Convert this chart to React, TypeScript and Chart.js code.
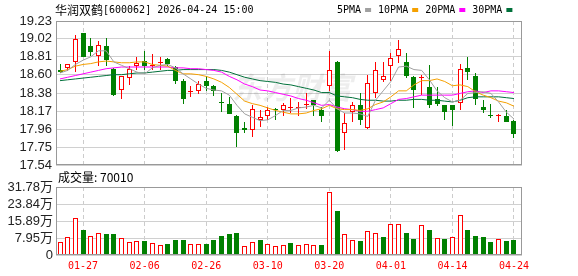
import React, { useEffect, useRef } from 'react';
import { Chart, registerables } from 'chart.js';

Chart.register(...registerables);

const stockName = '华润双鹤';
const stockCode = '600062';
const quoteTime = '2026-04-24 15:00';
const watermarkText = '东方财富';
const volumeTitle = '成交量';

const dates = ['01-22','01-23','01-26','01-27','01-28','01-29','01-30','02-02','02-03','02-04','02-05','02-06','02-09','02-10','02-11','02-12','02-13','02-24','02-25','02-26','02-27','03-02','03-03','03-04','03-05','03-06','03-09','03-10','03-11','03-12','03-13','03-16','03-17','03-18','03-19','03-20','03-23','03-24','03-25','03-26','03-27','03-30','03-31','04-01','04-02','04-03','04-07','04-08','04-09','04-10','04-13','04-14','04-15','04-16','04-17','04-20','04-21','04-22','04-23','04-24'];
const axisDates = ['01-27','02-06','02-26','03-10','03-20','04-01','04-14','04-24'];
const priceTicks = [17.54,17.75,17.96,18.17,18.38,18.60,18.81,19.02,19.23];
const volTickValues = [0,79450,158900,238350,317800];
const volTickLabels = ['0','7.95万','15.89万','23.84万','31.78万'];
const prevClose = 18.60;

const opens = [18.65,18.68,18.75,19.09,18.94,18.82,18.94,18.67,18.42,18.56, 18.70,18.76,18.70,18.74,18.78,18.69,18.53,18.40,18.41,18.53, 18.47,18.28,18.26,18.11,17.98,17.95,18.07,18.12,18.20,18.18, 18.21,18.21,18.24,18.30,18.18,18.47,18.75,17.92,18.16,18.24, 17.97,18.39,18.54,18.70,18.82,18.75,18.57,18.56,18.45,18.31, 18.24,18.25,18.27,18.68,18.58,18.22,18.13,18.12,18.12,18.06];
const highs = [18.73,18.73,19.06,19.09,19.03,18.99,19.03,18.68,18.59,18.70, 18.81,18.88,18.84,18.81,18.80,18.70,18.55,18.47,18.53,18.58, 18.48,18.39,18.34,18.13,18.05,18.25,18.18,18.22,18.21,18.27, 18.33,18.28,18.39,18.30,18.22,18.88,18.76,18.15,18.28,18.39, 18.60,18.75,18.75,18.86,19.01,18.86,18.59,18.60,18.71,18.45, 18.25,18.25,18.72,18.81,18.62,18.30,18.26,18.14,18.18,18.07];
const lows = [18.62,18.64,18.63,18.81,18.82,18.70,18.70,18.35,18.32,18.48, 18.66,18.66,18.65,18.65,18.70,18.49,18.26,18.34,18.37,18.41, 18.35,18.16,18.14,17.75,17.92,17.87,17.99,18.07,18.07,18.11, 18.15,18.11,18.20,18.11,18.04,18.41,17.69,17.72,18.04,18.01, 17.96,18.33,18.51,18.52,18.74,18.56,18.21,18.36,18.21,18.23, 18.07,18.00,18.19,18.54,18.24,18.15,18.09,18.04,18.04,17.86];
const closes = [18.63,18.73,19.02,18.81,18.87,18.95,18.77,18.36,18.59,18.67, 18.74,18.70,18.71,18.75,18.72,18.53,18.32,18.41,18.49,18.47, 18.41,18.27,18.14,17.92,17.95,18.20,18.10,18.18,18.18,18.24, 18.22,18.22,18.25,18.25,18.12,18.66,17.70,18.03,18.24,18.07, 18.50,18.66,18.58,18.80,18.90,18.58,18.42,18.57,18.24,18.26, 18.16,18.18,18.67,18.63,18.32,18.18,18.12,18.13,18.05,17.90];
const volumes = [62000,82000,175000,116000,91000,105000,98000,98000,78000,60000, 64000,65000,54000,45000,51000,70000,70000,51000,51000,51000, 70000,88000,98000,102000,40000,59000,70000,51000,40000,45000, 56000,45000,50000,45000,47000,296000,205000,96000,68000,65000, 110000,105000,84000,147000,143000,102000,74000,138000,116000,78000, 74000,82000,189000,116000,88000,84000,60000,73000,65000,70010];

const ma5 = [18.62,18.65,18.72,18.77,18.81,18.88,18.88,18.75,18.71,18.67, 18.63,18.61,18.68,18.71,18.72,18.68,18.61,18.55,18.49,18.44, 18.42,18.41,18.36,18.24,18.14,18.10,18.06,18.07,18.12,18.18, 18.18,18.21,18.22,18.24,18.21,18.30,18.20,18.15,18.15,18.14, 18.11,18.30,18.41,18.52,18.69,18.70,18.66,18.65,18.54,18.41, 18.33,18.28,18.30,18.38,18.39,18.40,18.38,18.28,18.16,18.08];
const ma10 = [18.64,18.66,18.70,18.72,18.73,18.75,18.76,18.75,18.74,18.74, 18.75,18.75,18.72,18.71,18.70,18.65,18.61,18.61,18.60,18.58, 18.55,18.51,18.45,18.37,18.29,18.26,18.24,18.21,18.18,18.16, 18.14,18.14,18.15,18.18,18.20,18.24,18.20,18.19,18.19,18.18, 18.20,18.25,18.28,18.34,18.41,18.41,18.48,18.53,18.53,18.55, 18.52,18.47,18.48,18.46,18.40,18.36,18.33,18.29,18.27,18.23];
const ma20 = [18.55,18.57,18.59,18.61,18.63,18.65,18.67,18.68,18.69,18.69, 18.69,18.69,18.69,18.69,18.69,18.68,18.68,18.67,18.67,18.66, 18.65,18.63,18.58,18.54,18.49,18.46,18.42,18.41,18.39,18.37, 18.35,18.32,18.30,18.27,18.24,18.25,18.22,18.20,18.19,18.17, 18.17,18.19,18.21,18.26,18.31,18.32,18.34,18.36,18.36,18.36, 18.36,18.36,18.38,18.40,18.41,18.39,18.41,18.41,18.40,18.39];
const ma30 = [18.53,18.54,18.55,18.56,18.57,18.58,18.59,18.60,18.60,18.61, 18.62,18.62,18.63,18.64,18.65,18.65,18.66,18.66,18.66,18.66, 18.66,18.65,18.63,18.60,18.57,18.55,18.53,18.52,18.51,18.49, 18.48,18.46,18.44,18.42,18.39,18.39,18.35,18.34,18.33,18.31, 18.30,18.30,18.29,18.29,18.30,18.30,18.31,18.31,18.30,18.30, 18.29,18.28,18.30,18.33,18.34,18.34,18.34,18.34,18.33,18.32];
const maNames = ['5PMA','10PMA','20PMA','30PMA'];

const MA_COLORS = ['#a0a0a0','#f5a000','#ff00ff','#00703a'];
const RED = '#ff0000';
const GREEN = '#008000';

// snap bar elements (computed by the scales) onto whole pixels so the thin wicks and borders stay crisp
const snapPlugin = {
  id: 'snapBars',
  beforeDatasetsDraw(chart: any) {
    chart.data.datasets.forEach((ds: any, di: number) => {
      const meta = chart.getDatasetMeta(di);
      if (meta.type !== 'bar') return;
      meta.data.forEach((el: any) => {
        el.x = Math.floor(el.x) + 0.5;
        let y = Math.round(el.y);
        let b = Math.round(el.base);
        if (b === y) b = y + 1;
        el.y = y;
        el.base = b;
      });
    });
  },
};

export default function App() {
  const priceRef = useRef<HTMLCanvasElement | null>(null);
  const volRef = useRef<HTMLCanvasElement | null>(null);

  useEffect(() => {
    const oldMargin = document.body.style.margin;
    document.body.style.margin = '0';
    const n = dates.length;
    const idx = dates.map((_, i) => i);
    const up = idx.map(i => closes[i] >= opens[i]);
    const volUp = idx.map(i => closes[i] >= (i === 0 ? prevClose : closes[i - 1]));
    const xTickIdx = axisDates.map(d => dates.indexOf(d));
    const X_MIN = -0.52;
    const X_MAX = n + 0.04;

    const makeX = (showLabels: boolean): any => ({
      type: 'linear',
      min: X_MIN,
      max: X_MAX,
      offset: false,
      afterBuildTicks: (s: any) => { s.ticks = xTickIdx.map(v => ({ value: v })); },
      afterFit: (s: any) => { s.height = showLabels ? 21 : 0; s.paddingLeft = 0; s.paddingRight = 0; },
      grid: { color: '#cccccc', lineWidth: 1, drawTicks: false, offset: false },
      border: { display: false, dash: [4, 3] },
      ticks: {
        display: showLabels, autoSkip: false, maxRotation: 0, minRotation: 0, padding: 5,
        color: RED, font: { family: "'DejaVu Sans Mono', monospace", size: 10 },
        callback: (v: any) => dates[v] ?? '',
      },
    });

    const frame = (chart: any) => {
      const { ctx, chartArea: a } = chart;
      ctx.save();
      ctx.strokeStyle = '#999999';
      ctx.lineWidth = 1;
      ctx.strokeRect(Math.round(a.left) + 0.5, Math.round(a.top) + 0.5, Math.round(a.right - a.left) - 1, Math.round(a.bottom - a.top) - 1);
      ctx.restore();
    };

    const pricePlugin = {
      id: 'priceDecor',
      beforeDatasetsDraw(chart: any) {
        const { ctx, chartArea: a } = chart;
        ctx.save();
        ctx.beginPath();
        ctx.rect(a.left, a.top, a.right - a.left, a.bottom - a.top);
        ctx.clip();
        ctx.font = "italic bold 30px 'Noto Sans CJK SC'";
        ctx.fillStyle = 'rgba(0,0,0,0.07)';
        ctx.textBaseline = 'middle';
        ctx.fillText(watermarkText, 232, 88);
        ctx.restore();
      },
      afterDraw(chart: any) {
        frame(chart);
        const { ctx } = chart;
        ctx.save();
        ctx.textBaseline = 'middle';
        ctx.fillStyle = '#000';
        ctx.font = "12px 'Noto Sans CJK SC'";
        ctx.fillText(stockName, 55, 10);
        const w = ctx.measureText(stockName).width;
        ctx.font = "10px 'DejaVu Sans Mono'";
        ctx.fillText(`[${stockCode}] ${quoteTime}`, 55 + w, 10);
        let x = 337;
        maNames.forEach((name, k) => {
          ctx.fillStyle = '#000';
          ctx.fillText(name, x, 10);
          x += ctx.measureText(name).width + 4;
          ctx.fillStyle = MA_COLORS[k];
          ctx.fillRect(x, 8, 6, 4);
          x += 6 + 7;
        });
        ctx.restore();
      },
    };

    const volPlugin = {
      id: 'volDecor',
      afterDraw(chart: any) {
        frame(chart);
        const { ctx } = chart;
        ctx.save();
        ctx.textBaseline = 'middle';
        ctx.fillStyle = '#000';
        ctx.font = "12px 'Noto Sans CJK SC'";
        ctx.fillText(`${volumeTitle}: ${volumes[n - 1]}`, 58, 7);
        ctx.restore();
      },
    };

    const maSeries = [ma5, ma10, ma20, ma30];
    const lineDs = maSeries.map((arr, k) => ({
      type: 'line',
      label: maNames[k],
      data: arr.map((v, i) => ({ x: i, y: v })),
      borderColor: MA_COLORS[k],
      borderWidth: 1,
      pointRadius: 0,
      tension: 0,
      fill: false,
      order: 0,
    }));

    const bodyDs = {
      type: 'bar',
      label: 'body',
      data: idx.map(i => ({ x: i, y: [opens[i], closes[i]] })),
      backgroundColor: idx.map(i => (up[i] ? '#ffffff' : GREEN)),
      borderColor: idx.map(i => (up[i] ? RED : GREEN)),
      borderWidth: 1,
      borderSkipped: false,
      barThickness: 5,
      minBarLength: 1,
      grouped: false,
      inflateAmount: 0,
      order: 1,
    };
    const wickDs = {
      type: 'bar',
      label: 'wick',
      data: idx.map(i => ({ x: i, y: [lows[i], highs[i]] })),
      backgroundColor: idx.map(i => (up[i] ? RED : GREEN)),
      borderWidth: 0,
      barThickness: 1,
      grouped: false,
      inflateAmount: 0,
      order: 2,
    };

    const commonOpts: any = {
      responsive: false,
      animation: false,
      devicePixelRatio: 1,
      events: [],
      plugins: { legend: { display: false }, tooltip: { enabled: false }, title: { display: false } },
    };

    const priceChart = new Chart(priceRef.current as HTMLCanvasElement, {
      type: 'bar',
      data: { datasets: [...lineDs, bodyDs, wickDs] as any },
      options: {
        ...commonOpts,
        layout: { padding: { top: 21, right: 56, bottom: 5, left: 0 } },
        scales: {
          x: makeX(false),
          y: {
            type: 'linear',
            position: 'left',
            min: priceTicks[0],
            max: priceTicks[priceTicks.length - 1],
            afterBuildTicks: (s: any) => { s.ticks = priceTicks.map(v => ({ value: v })); },
            afterFit: (s: any) => { s.width = 56; s.paddingTop = 0; s.paddingBottom = 0; },
            grid: { color: '#d0d0d0', drawTicks: false },
            border: { display: false },
            ticks: {
              autoSkip: false,
              padding: 4, color: '#222',
              font: { family: "'Liberation Sans', Arial, sans-serif", size: 13 },
              callback: (v: any) => Number(v).toFixed(2),
            },
          },
        },
      } as any,
      plugins: [snapPlugin, pricePlugin],
    });

    const volChart = new Chart(volRef.current as HTMLCanvasElement, {
      type: 'bar',
      data: {
        datasets: [{
          label: 'vol',
          data: idx.map(i => ({ x: i, y: volumes[i] })),
          backgroundColor: idx.map(i => (volUp[i] ? '#ffffff' : GREEN)),
          borderColor: idx.map(i => (volUp[i] ? RED : GREEN)),
          borderWidth: 1,
          borderSkipped: false,
          barThickness: 5,
          grouped: false,
          inflateAmount: 0,
        }] as any,
      },
      options: {
        ...commonOpts,
        layout: { padding: { top: 17, right: 56, bottom: 0, left: 0 } },
        scales: {
          x: makeX(true),
          y: {
            type: 'linear',
            position: 'left',
            min: volTickValues[0],
            max: volTickValues[volTickValues.length - 1],
            afterBuildTicks: (s: any) => { s.ticks = volTickValues.map(v => ({ value: v })); },
            afterFit: (s: any) => { s.width = 56; s.paddingTop = 0; s.paddingBottom = 0; },
            grid: { color: '#d0d0d0', drawTicks: false },
            border: { display: false },
            ticks: {
              autoSkip: false,
              padding: 3, color: '#222',
              font: { family: "'Liberation Sans', Arial, 'Noto Sans CJK SC', sans-serif", size: 13 },
              callback: (_v: any, i: number) => volTickLabels[i],
            },
          },
        },
      } as any,
      plugins: [snapPlugin, volPlugin],
    });

    return () => {
      priceChart.destroy();
      volChart.destroy();
      document.body.style.margin = oldMargin;
    };
  }, []);

  return (
    <div style={{ position: 'absolute', left: 0, top: 0, width: 578, height: 276, background: '#ffffff' }}>
      <canvas ref={priceRef} width={578} height={170} style={{ position: 'absolute', left: 0, top: 0, width: 578, height: 170 }} />
      <canvas ref={volRef} width={578} height={106} style={{ position: 'absolute', left: 0, top: 170, width: 578, height: 106 }} />
    </div>
  );
}
